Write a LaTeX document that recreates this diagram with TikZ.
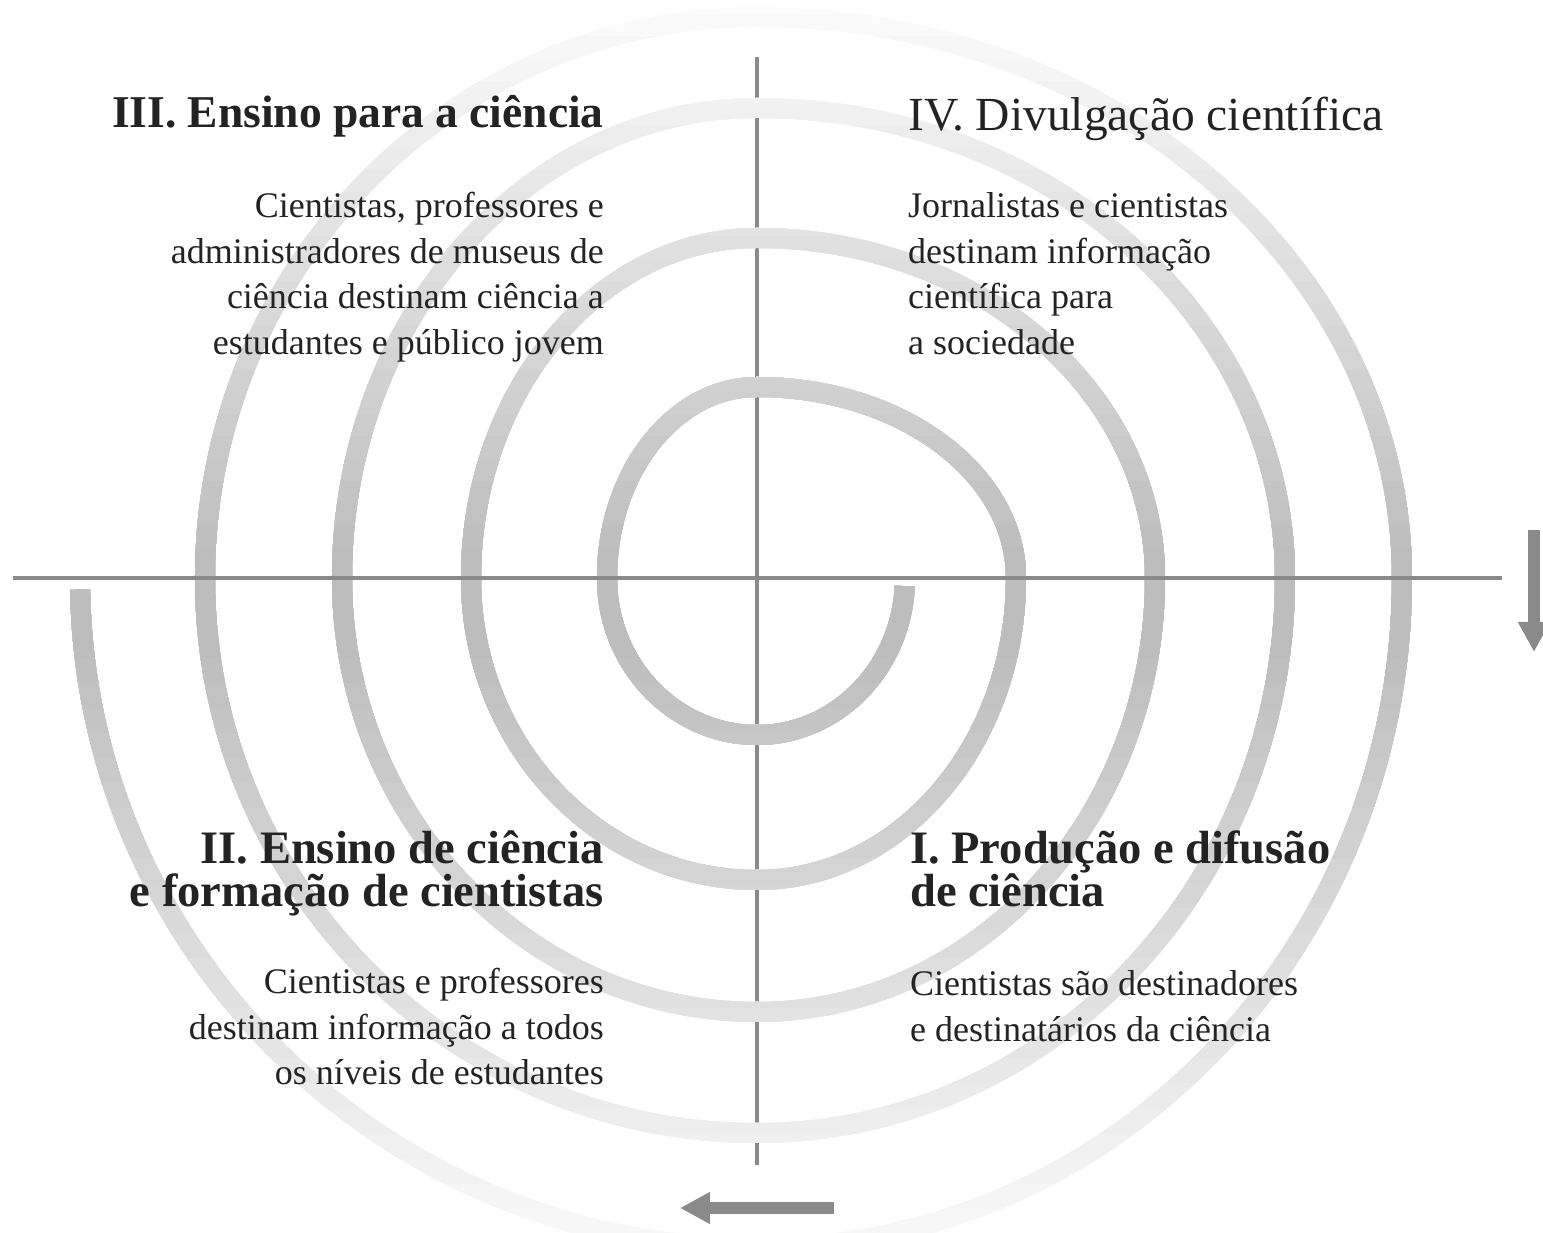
\documentclass[tikz,border=0pt]{standalone}
\usepackage{fontspec}
\setmainfont{Liberation Serif}
\usetikzlibrary{arrows.meta,calc}

\definecolor{axisgray}{HTML}{8A8A8A}
\definecolor{inkgray}{HTML}{232323}

% the spiral, as quarter turns round the crossing of the axes
\newcommand{\spiralturns}{(-3:148 and 157)
 arc[start angle=-3,end angle=-90,x radius=148,y radius=157]
 arc[start angle=-90,end angle=-180,x radius=150,y radius=157]
 arc[start angle=180,end angle=90,x radius=150,y radius=191]
 arc[start angle=90,end angle=0,x radius=259,y radius=191]
 arc[start angle=0,end angle=-90,x radius=259,y radius=302]
 arc[start angle=-90,end angle=-180,x radius=286,y radius=302]
 arc[start angle=180,end angle=90,x radius=286,y radius=340]
 arc[start angle=90,end angle=0,x radius=398,y radius=340]
 arc[start angle=0,end angle=-90,x radius=398,y radius=434]
 arc[start angle=-90,end angle=-180,x radius=415,y radius=434]
 arc[start angle=180,end angle=90,x radius=415,y radius=470]
 arc[start angle=90,end angle=0,x radius=528,y radius=470]
 arc[start angle=0,end angle=-90,x radius=528,y radius=555]
 arc[start angle=-90,end angle=-180,x radius=552,y radius=555]
 arc[start angle=180,end angle=90,x radius=552,y radius=561]
 arc[start angle=90,end angle=0,x radius=645,y radius=561]
 arc[start angle=0,end angle=-90,x radius=645,y radius=670]
 arc[start angle=-90,end angle=-179,x radius=677,y radius=670]}

\begin{document}
\begin{tikzpicture}[x=1pt,y=1pt,
  ring/.style={line width=20pt,line cap=butt},
  axis/.style={line width=4.5pt,draw=axisgray},
  flow/.style={line width=12pt,draw=axisgray,-{Triangle[length=30pt,width=30pt]}},
  head/.style={inner sep=0pt,text=inkgray,font=\fontsize{46.5}{41}\selectfont\bfseries},
  body/.style={inner sep=0pt,text=inkgray,font=\fontsize{36}{45.5}\selectfont}]
\useasboundingbox (-757,-655) rectangle (786,578);
%axes
\coordinate (O) at (0,0);
\coordinate (n) at (0,521);
\coordinate (s) at (0,-587);
\coordinate (w) at (-744,0);
\coordinate (e) at (745,0);
\draw[axis] (n) -- (s);
%spiral, lighter with distance from the axis (faster upwards)
\foreach \p in {1,...,26}{
  \begin{scope}
  \clip (-760,{-80-(26-\p)/0.04}) rectangle (790,{30+(26-\p)/0.045});
  \draw[ring,draw=black!\p] \spiralturns;
  \end{scope}
}
\draw[axis] (w) -- (e);
%quadrant III
\node[head,font=\fontsize{45.5}{41}\selectfont\bfseries,anchor=base east] (h3) at (-153,450) {III. Ensino para a ciência};
\foreach \t [count=\i] in {{Cientistas, professores e},{administradores de museus de},{ciência destinam ciência a},{estudantes e público jovem}}
  \node[body,anchor=base east] (b3-\i) at (-153,405.5-45.5*\i) {\t};
%quadrant IV
\node[head,font=\fontsize{47.5}{41}\selectfont,anchor=base west] (h4) at (151,447) {IV. Divulgação científica};
\foreach \t [count=\i] in {{Jornalistas e cientistas},{destinam informação},{científica para},{a sociedade}}
  \node[body,anchor=base west] (b4-\i) at (151,405.5-45.5*\i) {\t};
%quadrant II
\node[head,anchor=base east] (h2a) at (-153,-286) {II. Ensino de ciência};
\node[head,anchor=base east] (h2b) at ($(h2a.base east)+(0,-43)$) {e formação de cientistas};
\foreach \t [count=\i] in {{Cientistas e professores},{destinam informação a todos},{os níveis de estudantes}}
  \node[body,anchor=base east] (b2-\i) at (-153,-370.5-45.5*\i) {\t};
%quadrant I
\node[head,anchor=base west] (h1a) at (153,-286) {I. Produção e difusão};
\node[head,anchor=base west] (h1b) at ($(h1a.base west)+(0,-43)$) {de ciência};
\foreach \t [count=\i] in {{Cientistas são destinadores},{e destinatários da ciência}}
  \node[body,anchor=base west] (b1-\i) at (153,-372.5-45.5*\i) {\t};
%direction arrows
\coordinate (r1) at (777,48);
\coordinate (r2) at (777,-74);
\draw[flow] (r1) -- (r2);
\coordinate (d1) at (77,-630);
\coordinate (d2) at (-77,-630);
\draw[flow] (d1) -- (d2);
\end{tikzpicture}
\end{document}
